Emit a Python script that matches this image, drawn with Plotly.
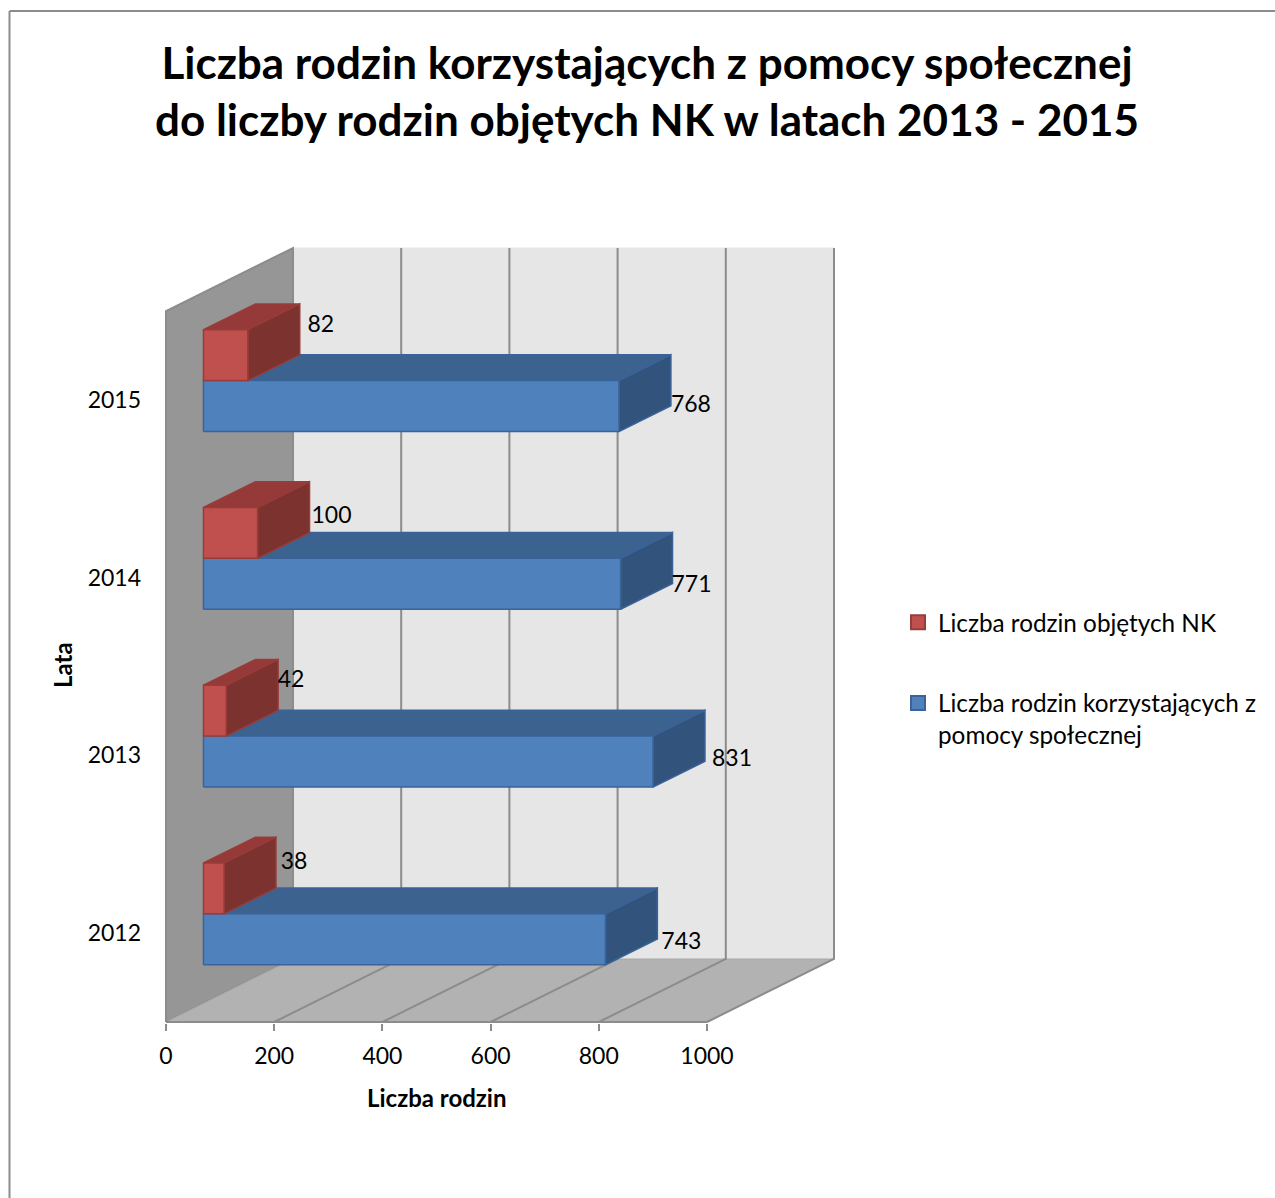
import plotly.graph_objects as go

# ---- data ----
years = ["2012", "2013", "2014", "2015"]
red_name = "Liczba rodzin objętych NK"
blue_name = "Liczba rodzin korzystających z<br>pomocy społecznej"
red_values = [38, 42, 100, 82]
blue_values = [743, 831, 771, 768]
x_ticks = [0, 200, 400, 600, 800, 1000]

# ---- style / geometry ----
W, H = 1275, 1198
X0_PX, X1_PX, Y0_PX, Y1_PX = 166, 707, 1022, 311
PX_X = (X1_PX - X0_PX) / 1000
PX_Y = (Y0_PX - Y1_PX) / 4
DEPTH_X = 127 / PX_X
DEPTH_Y = 63 / PX_Y
T_FRONT, T_BACK = 0.295, 0.704
# plotting window, a little larger than the drawn box so that strokes are not cut
LEFT_PX, RIGHT_PX, BOTTOM_PX, TOP_PX = 160, 840, 1023, 241
FONT = "Lato"
BLUE = dict(front="#4f81bd", top="#3c6290", side="#32547c", line="#3a639a")
RED = dict(front="#c0504d", top="#953a38", side="#7c322f", line="#983c39")
# pixel nudges (right, up) of the value labels from the rear lower corner of each bar
red_nudge = [(18, 25), (13, 29), (22, 15), (21, 29)]
blue_nudge = [(24, -4), (27, 1), (19, -3), (20, 0)]


def poly(points):
    xs, ys = zip(*points)
    return list(xs) + [xs[0]], list(ys) + [ys[0]]


def at(x, y, t):
    return x + t * DEPTH_X, y + t * DEPTH_Y


fig = go.Figure()


def area(points, fill, line, width=1):
    xs, ys = poly(points)
    fig.add_trace(go.Scatter(x=xs, y=ys, mode="lines", fill="toself", fillcolor=fill,
                             line=dict(color=line, width=width),
                             hoverinfo="skip", showlegend=False))


YB, YT = -0.5, 3.5
# walls and floor
area([at(0, YB, 1), at(0, YT, 1), at(1000, YT, 1), at(1000, YB, 1)], "#e6e6e6", "#e6e6e6", 1)
area([at(0, YB, 0), at(0, YT, 0), at(0, YT, 1), at(0, YB, 1)], "#969696", "#8c8c8c", 2)
area([at(0, YB, 0), at(1000, YB, 0), at(1000, YB, 1), at(0, YB, 1)], "#b2b2b2", "#a8a8a8", 1)

# grid on floor and back wall
gx, gy = [], []
for v in x_ticks[1:]:
    for p in (at(v, YB, 0), at(v, YB, 1), at(v, YT, 1)):
        gx.append(p[0])
        gy.append(p[1])
    gx.append(None)
    gy.append(None)
fig.add_trace(go.Scatter(x=gx, y=gy, mode="lines", line=dict(color="#8c8c8c", width=2),
                         hoverinfo="skip", showlegend=False))
# front edge of the floor
fig.add_trace(go.Scatter(x=[0, 1000], y=[YB, YB], mode="lines", line=dict(color="#8c8c8c", width=2),
                         hoverinfo="skip", showlegend=False))


def bars(values, lo, hi, c):
    front, top, side = [], [], []
    for i, v in enumerate(values):
        a, b = i + lo, i + hi
        front.append([at(0, a, T_FRONT), at(v, a, T_FRONT), at(v, b, T_FRONT), at(0, b, T_FRONT)])
        top.append([at(0, b, T_FRONT), at(v, b, T_FRONT), at(v, b, T_BACK), at(0, b, T_BACK)])
        side.append([at(v, a, T_FRONT), at(v, a, T_BACK), at(v, b, T_BACK), at(v, b, T_FRONT)])
    for faces, col in ((top, c["top"]), (side, c["side"]), (front, c["front"])):
        for f in faces:
            area(f, col, c["line"], 1.5)


bars(blue_values, -0.283, 0.004, BLUE)
bars(red_values, 0.004, 0.29, RED)


def labels(values, lo, nudges):
    xs, ys, ts = [], [], []
    for i, v in enumerate(values):
        x, y = at(v, i + lo, T_BACK)
        xs.append(x + nudges[i][0] / PX_X)
        ys.append(y + nudges[i][1] / PX_Y)
        ts.append(str(v))
    fig.add_trace(go.Scatter(x=xs, y=ys, text=ts, mode="text", textposition="middle center",
                             textfont=dict(family=FONT, size=23, color="#000000"),
                             hoverinfo="skip", showlegend=False))


labels(blue_values, -0.283, blue_nudge)
labels(red_values, 0.004, red_nudge)

# legend entries
fig.add_trace(go.Scatter(x=[None], y=[None], mode="markers", name=red_name, legendgroup="r",
                         marker=dict(symbol="square", size=14, color=RED["front"],
                                     line=dict(color=RED["line"], width=2))))
fig.add_trace(go.Scatter(x=[None], y=[None], mode="markers", name=blue_name, legendgroup="b",
                         marker=dict(symbol="square", size=14, color=BLUE["front"],
                                     line=dict(color=BLUE["line"], width=2))))

AXIS_FONT = dict(family=FONT, size=23, color="#000000")
TITLE_FONT = dict(family=FONT, size=24, color="#000000", weight="bold")
fig.update_layout(
    width=W, height=H, margin=dict(l=0, r=0, t=0, b=0),
    paper_bgcolor="white", plot_bgcolor="rgba(0,0,0,0)",
    title=dict(text="Liczba rodzin korzystających z pomocy społecznej<br>do liczby rodzin objętych NK w latach 2013 - 2015",
               font=dict(family=FONT, size=44, color="#000000", weight="bold"),
               x=647 / W, xanchor="center", y=1 - 79 / H, yanchor="middle"),
    xaxis=dict(domain=[LEFT_PX / W, RIGHT_PX / W],
               range=[(LEFT_PX - X0_PX) / PX_X, (RIGHT_PX - X0_PX) / PX_X], tickvals=x_ticks,
               ticks="outside", ticklen=7, tickwidth=2, tickcolor="#8c8c8c",
               showgrid=False, zeroline=False, showline=False, tickfont=AXIS_FONT,
               ticklabelstandoff=5),
    yaxis=dict(domain=[1 - BOTTOM_PX / H, 1 - TOP_PX / H],
               range=[-0.5 - (BOTTOM_PX - Y0_PX) / PX_Y, -0.5 + (Y0_PX - TOP_PX) / PX_Y],
               tickvals=list(range(4)), ticktext=years, ticks="", showgrid=False,
               zeroline=False, showline=False, tickfont=AXIS_FONT, ticklabelstandoff=18),
    legend=dict(x=898 / W, y=1 - 600 / H, xanchor="left", yanchor="top", bgcolor="rgba(0,0,0,0)",
                font=dict(family=FONT, size=24.3, color="#000000"), tracegroupgap=46,
                traceorder="grouped", valign="top"),
    annotations=[
        dict(text="Liczba rodzin", xref="paper", yref="paper", x=436.5 / W, y=1 - 1097 / H,
             showarrow=False, xanchor="center", yanchor="middle", font=TITLE_FONT),
        dict(text="Lata", xref="paper", yref="paper", x=62 / W, y=1 - 665 / H, textangle=-90,
             showarrow=False, xanchor="center", yanchor="middle", font=TITLE_FONT),
    ],
    shapes=[
        dict(type="line", xref="paper", yref="paper", x0=9.5 / W, x1=1, y0=1 - 11 / H, y1=1 - 11 / H,
             line=dict(color="#8c8c8c", width=2)),
        dict(type="line", xref="paper", yref="paper", x0=9.5 / W, x1=9.5 / W, y0=1 - 11 / H, y1=0,
             line=dict(color="#8c8c8c", width=2)),
    ],
)
fig.write_html("out.html", config=dict(displayModeBar=False),
               post_script="document.body.style.margin='0';document.body.style.overflow='hidden';")
